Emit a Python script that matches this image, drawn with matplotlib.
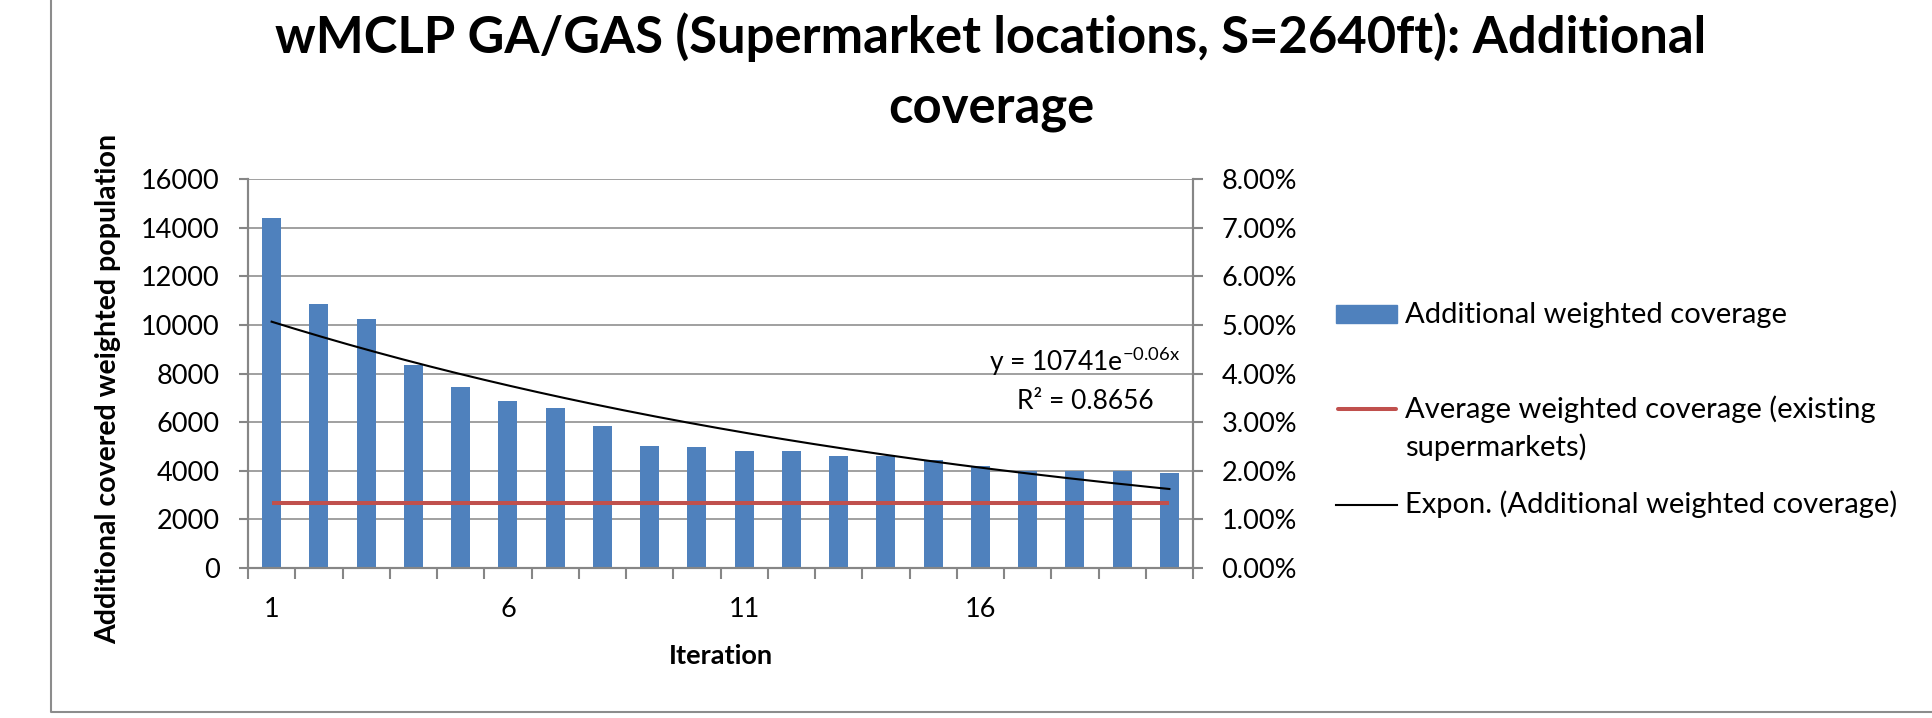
import numpy as np
import matplotlib
matplotlib.use('Agg')
import matplotlib.pyplot as plt
from matplotlib.lines import Line2D
from matplotlib.patches import Rectangle
from matplotlib.ticker import FuncFormatter

plt.rcParams['font.family'] = ['Lato', 'DejaVu Sans']

# data
iterations = list(range(1, 21))
coverage = [14390, 10870, 10230, 8370, 7430, 6850, 6600, 5850, 5030, 4980,
            4820, 4800, 4610, 4600, 4430, 4200, 3990, 3990, 3990, 3920]
avg_existing_pct = [1.33] * 20
x_labels = [1, 6, 11, 16]
trend_text = r'y = 10741e$^{\mathregular{-0.06x}}$'
r2_text = 'R² = 0.8656'

W, H = 1932, 718
blue = '#4F81BD'
red = '#C0504D'
grey = '#868686'


def fx(x):
    return x / W


def fy(y):
    return 1 - y / H


fig = plt.figure(figsize=(W / 100, H / 100), dpi=100)
ax = fig.add_axes([fx(248), fy(568), (1193 - 248) / W, (568 - 179) / H])
ax2 = ax.twinx()

ax.bar(iterations, coverage, width=0.4, color=blue, zorder=2)

# exponential trend, fitted like excel does (least squares on ln y)
b, lna = np.polyfit(iterations, np.log(coverage), 1)
xt = np.linspace(1, 20, 200)
ax.plot(xt, np.exp(lna) * np.exp(b * xt), color='black', lw=1.5, zorder=3)

ax2.plot(iterations, avg_existing_pct, color=red, lw=2.9, solid_capstyle='butt')

ax.set_xlim(0.5, 20.5)
ax.set_ylim(0, 16000)
ax.set_yticks(range(0, 16001, 2000))
ax2.set_ylim(0, 8)
ax2.set_yticks(range(0, 9))
ax2.yaxis.set_major_formatter(FuncFormatter(lambda v, p: f'{v:.2f}%'))

ax.set_xticks(np.arange(0.5, 21, 1))
ax.set_xticklabels([])
ax.set_xticks(x_labels, minor=True)
ax.set_xticklabels([str(v) for v in x_labels], minor=True)
ax.tick_params(axis='x', which='major', direction='out', length=8, width=1.5, color=grey)
ax.tick_params(axis='x', which='minor', length=0, pad=21, labelsize=19.5)
ax.tick_params(axis='y', direction='out', length=6.5, width=1.5, color=grey, pad=14, labelsize=19.5)
ax2.tick_params(axis='y', direction='out', length=7.5, width=1.5, color=grey, pad=13, labelsize=19.5)

ax.yaxis.grid(True, color=grey, lw=1.1)
ax.set_axisbelow(True)
for a in (ax, ax2):
    a.spines['top'].set_visible(False)
    for s in ('left', 'right', 'bottom'):
        a.spines[s].set_color(grey)
        a.spines[s].set_linewidth(1.5)

ax.set_xlabel('Iteration', fontsize=19.5, fontweight='bold')
ax.xaxis.set_label_coords(0.5, -0.195)
ax.set_ylabel('Additional covered weighted population', fontsize=20.5, fontweight='bold', va='center')
ax.yaxis.set_label_coords(-0.1475, 0.46)

# title
fig.text(fx(991), fy(53), 'wMCLP GA/GAS (Supermarket locations, S=2640ft): Additional',
         ha='center', va='baseline', fontsize=36.5, fontweight='bold')
fig.text(fx(991), fy(123), 'coverage', ha='center', va='baseline', fontsize=36.5, fontweight='bold')

# trendline label
fig.text(fx(1085), fy(371), trend_text, ha='center', va='baseline', fontsize=19)
fig.text(fx(1085), fy(409), r2_text, ha='center', va='baseline', fontsize=19)

# legend
fig.patches.append(Rectangle((fx(1336), fy(322.7)), 61 / W, 17.7 / H,
                             transform=fig.transFigure, color=blue))
fig.text(fx(1405), fy(322.7), 'Additional weighted coverage', va='baseline', fontsize=21)
fig.lines.append(Line2D([fx(1338), fx(1396)], [fy(409), fy(409)], transform=fig.transFigure,
                        color=red, lw=2.9, solid_capstyle='round'))
fig.text(fx(1405), fy(417.7), 'Average weighted coverage (existing', va='baseline', fontsize=21)
fig.text(fx(1405), fy(455.7), 'supermarkets)', va='baseline', fontsize=21)
fig.lines.append(Line2D([fx(1336), fx(1397)], [fy(505), fy(505)], transform=fig.transFigure,
                        color='black', lw=1.5))
fig.text(fx(1405), fy(513), 'Expon. (Additional weighted coverage)', va='baseline', fontsize=21)

# chart area border
fig.lines.append(Line2D([fx(51), fx(51), fx(W + 5)], [fy(-5), fy(712), fy(712)],
                        transform=fig.transFigure, color='#8c8c8c', lw=1.5))

fig.savefig('out.png', dpi=100)
